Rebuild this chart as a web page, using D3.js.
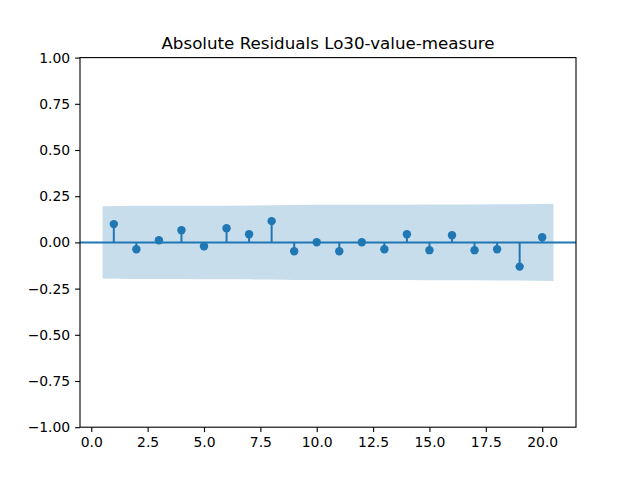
<!DOCTYPE html>
<html>
<head>
<meta charset="utf-8">
<script src="https://cdn.jsdelivr.net/npm/d3@7"></script>
<style>
  body { margin: 0; background: #fff; }
  svg text { font-family: "DejaVu Sans", sans-serif; }
</style>
</head>
<body>
<div id="chart"></div>
<script>
// lags and autocorrelation values
const lags = [1, 2, 3, 4, 5, 6, 7, 8, 9, 10, 11, 12, 13, 14, 15, 16, 17, 18, 19, 20];
const acfValues = [0.099, -0.037, 0.012, 0.066, -0.021, 0.077, 0.044, 0.115, -0.048, 0.001,
                   -0.048, 0.001, -0.037, 0.044, -0.042, 0.039, -0.042, -0.037, -0.131, 0.028];
// half-width of the shaded confidence band at each lag
const bandHalf = [0.196, 0.198, 0.198, 0.198, 0.199, 0.199, 0.200, 0.201, 0.203, 0.204,
                  0.204, 0.204, 0.204, 0.204, 0.205, 0.205, 0.205, 0.206, 0.206, 0.209];
const xTicks = [0, 2.5, 5, 7.5, 10, 12.5, 15, 17.5, 20];
const yTicks = [-1, -0.75, -0.5, -0.25, 0, 0.25, 0.5, 0.75, 1];
const title = "Absolute Residuals Lo30-value-measure";

const width = 640, height = 480;
const margin = { top: 57.6, right: 64, bottom: 52.8, left: 80 };
const blue = "#1f77b4";

const svg = d3.select("#chart").append("svg")
  .attr("width", width)
  .attr("height", height);

const x = d3.scaleLinear().domain([-0.5, 21.5]).range([margin.left, width - margin.right]);
const y = d3.scaleLinear().domain([-1, 1]).range([height - margin.bottom, margin.top]);

// confidence band, ends pushed out half a lag like statsmodels does
const bandData = lags.map((l, i) => ({
  lag: i === 0 ? l - 0.5 : (i === lags.length - 1 ? l + 0.5 : l),
  h: bandHalf[i]
}));
svg.append("path")
  .datum(bandData)
  .attr("fill", blue)
  .attr("fill-opacity", 0.25)
  .attr("d", d3.area().x(d => x(d.lag)).y0(d => y(-d.h)).y1(d => y(d.h)));

// zero line across the axes
svg.append("line")
  .attr("x1", x.range()[0]).attr("x2", x.range()[1])
  .attr("y1", y(0)).attr("y2", y(0))
  .attr("stroke", blue).attr("stroke-width", 2);

// stems
svg.selectAll("line.stem")
  .data(lags)
  .join("line")
  .attr("class", "stem")
  .attr("x1", d => x(d)).attr("x2", d => x(d))
  .attr("y1", y(0)).attr("y2", (d, i) => y(acfValues[i]))
  .attr("stroke", blue).attr("stroke-width", 2);

// markers
svg.selectAll("circle.pt")
  .data(lags)
  .join("circle")
  .attr("class", "pt")
  .attr("cx", d => x(d))
  .attr("cy", (d, i) => y(acfValues[i]))
  .attr("r", 4.2)
  .attr("fill", blue);

// axes
const xAxis = svg.append("g")
  .attr("transform", `translate(0,${height - margin.bottom})`)
  .call(d3.axisBottom(x).tickValues(xTicks).tickSize(4.9).tickPadding(4.9)
    .tickFormat(d3.format(".1f")));
const yAxis = svg.append("g")
  .attr("transform", `translate(${margin.left},0)`)
  .call(d3.axisLeft(y).tickValues(yTicks).tickSize(4.9).tickPadding(4.9)
    .tickFormat(d => d3.format(".2f")(d).replace("-", "\u2212")));

[xAxis, yAxis].forEach(g => {
  g.select(".domain").remove();
  g.selectAll(".tick line").attr("stroke", "#000").attr("stroke-width", 1.1);
  g.selectAll(".tick text").attr("fill", "#000").style("font-size", "13.9px")
    .style("font-family", "DejaVu Sans");
});

// frame
svg.append("rect")
  .attr("x", margin.left).attr("y", margin.top)
  .attr("width", width - margin.left - margin.right)
  .attr("height", height - margin.top - margin.bottom)
  .attr("fill", "none").attr("stroke", "#000").attr("stroke-width", 1.1);

svg.append("text")
  .attr("x", (margin.left + width - margin.right) / 2)
  .attr("y", margin.top - 8.3)
  .attr("text-anchor", "middle")
  .style("font-size", "16.7px")
  .text(title);
</script>
</body>
</html>
